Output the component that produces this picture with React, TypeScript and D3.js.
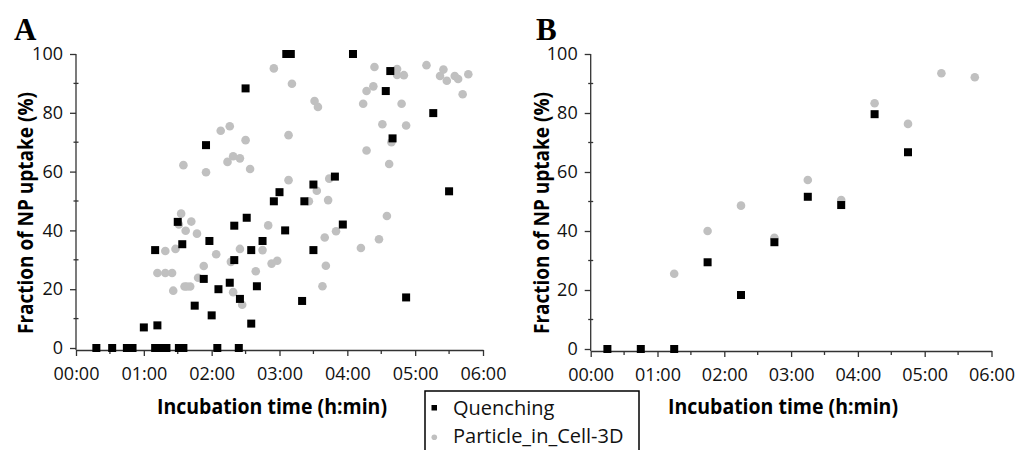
import * as d3 from "d3";
import React, { useRef, useEffect } from "react";

const W = 1019;
const H = 450;

// panel A, quenching (time in minutes, uptake in %)
const quenchA_min = [18, 32, 45, 50, 60, 70, 72, 70, 75, 80, 90, 94, 91, 95, 115, 118, 113, 105, 120, 150, 186, 190, 245, 229, 210, 180, 175, 202, 151, 140, 236, 185, 165, 155, 210, 140, 136, 126, 160, 145, 200, 155, 125, 144, 278, 274, 316, 280, 330, 292];
const quenchA_pct = [0, 0, 0, 0, 7, 33.3, 7.7, 0, 0, 0, 42.9, 35.3, 0, 0, 69, 36.4, 23.5, 14.4, 11.1, 88.3, 100, 100, 100, 58.3, 55.6, 53, 49.9, 49.9, 44.3, 41.6, 42, 40, 36.4, 33.3, 33.3, 29.9, 22.2, 20, 21, 16.7, 16, 8.3, 0, 0, 94.2, 87.4, 79.9, 71.3, 53.3, 17.2];

// panel A, particle_in_cell-3D
const cellA_min = [95, 115, 93, 91, 102, 97, 107, 88, 79, 72, 79, 85, 86, 96, 98, 101, 113, 108, 175, 191, 211, 214, 128, 136, 150, 188, 134, 139, 145, 154, 188, 224, 213, 223, 206, 170, 220, 230, 124, 145, 165, 137, 173, 178, 159, 221, 218, 139, 147, 252, 264, 284, 284, 290, 310, 325, 322, 328, 335, 338, 347, 342, 257, 263, 254, 288, 271, 292, 279, 257, 277, 275, 268];
const cellA_pct = [62.2, 59.8, 45.7, 42, 43, 39.9, 38.9, 33.7, 33, 25.5, 25.5, 25.5, 19.5, 20.9, 20.9, 20.9, 27.9, 23.9, 95.1, 89.9, 84, 82, 73.9, 75.4, 70.7, 72.4, 63.3, 65.2, 64.5, 60.9, 57.1, 57.6, 53.5, 50.3, 49.9, 41.7, 37.6, 39.7, 31.9, 33.7, 33.3, 29.3, 28.7, 29.7, 26.1, 28, 21, 19, 14.7, 34, 95.6, 94.9, 92.9, 92.8, 96.2, 94.7, 92.5, 90.9, 92.5, 91.5, 93.1, 86.3, 87.4, 89, 83.1, 83.1, 76.1, 75.7, 70, 67.2, 62.6, 44.9, 37];

// panel B
const quenchB_min = [15, 45, 75, 105, 135, 165, 195, 225, 255, 285];
const quenchB_pct = [0, 0, 0, 29.4, 18.3, 36.2, 51.6, 48.8, 79.6, 66.7];
const cellB_min = [75, 105, 135, 165, 195, 225, 255, 285, 315, 345];
const cellB_pct = [25.5, 40, 48.6, 37.7, 57.3, 50.5, 83.3, 76.3, 93.5, 92.1];

const yTicks = [0, 20, 40, 60, 80, 100];
const yMinor = [10, 30, 50, 70, 90];
const xTicks = [0, 60, 120, 180, 240, 300, 360];
const xMinor = [30, 90, 150, 210, 270, 330];

const seriesNames = ["Quenching", "Particle_in_Cell-3D"];
const xTitle = "Incubation time (h:min)";
const yTitle = "Fraction of NP uptake (%)";

const pad2 = (n) => String(n).padStart(2, "0");
const fmtTime = (m) => `${pad2(Math.floor(m / 60))}:${pad2(m % 60)}`;
const zip = (a, b) => a.map((v, i) => [v, b[i]]);

const FONT = "'Open Sans', 'Noto Sans', sans-serif";
const AXIS = "#333";
const GREY = "#c0c0c0";

const panels = [
  {
    label: "A", left: 76, right: 483, top: 54, bottom: 348,
    letterX: 14, yTitleX: 25, xTitleX: 272,
    quench: zip(quenchA_min, quenchA_pct), cell: zip(cellA_min, cellA_pct),
  },
  {
    label: "B", left: 590.7, right: 991.5, top: 54, bottom: 349,
    letterX: 536, yTitleX: 541, xTitleX: 783,
    quench: zip(quenchB_min, quenchB_pct), cell: zip(cellB_min, cellB_pct),
  },
];

function App() {
  const ref = useRef(null);

  useEffect(() => {
    const svg = d3.select(ref.current);
    svg.selectAll("*").remove();
    svg.append("rect").attr("width", W).attr("height", H).attr("fill", "#fff");

    panels.forEach((p) => {
      const x = d3.scaleLinear().domain([0, 360]).range([p.left, p.right]);
      const y = d3.scaleLinear().domain([0, 100]).range([p.bottom, p.top]);
      const axisY = p.bottom + 2;
      const g = svg.append("g");

      // minor ticks
      g.selectAll(".ymin")
        .data(yMinor)
        .join("line")
        .attr("x1", p.left - 2.5)
        .attr("x2", p.left + 2.5)
        .attr("y1", (d) => y(d))
        .attr("y2", (d) => y(d))
        .attr("stroke", AXIS)
        .attr("stroke-width", 1.3);
      g.selectAll(".xmin")
        .data(xMinor)
        .join("line")
        .attr("x1", (d) => x(d))
        .attr("x2", (d) => x(d))
        .attr("y1", axisY)
        .attr("y2", axisY + 4)
        .attr("stroke", AXIS)
        .attr("stroke-width", 1.3);

      // y axis
      const ya = g
        .append("g")
        .attr("transform", `translate(${p.left},0)`)
        .call(d3.axisLeft(y).tickValues(yTicks).tickSize(6).tickSizeOuter(0).tickPadding(7));
      ya.select(".domain").attr("d", `M0,${y(100)}V${axisY}`);

      // x axis
      const xa = g
        .append("g")
        .attr("transform", `translate(0,${axisY})`)
        .call(d3.axisBottom(x).tickValues(xTicks).tickFormat(fmtTime).tickSize(6).tickSizeOuter(0).tickPadding(11));

      [ya, xa].forEach((a) => {
        a.attr("font-family", FONT).attr("font-size", 18);
        a.selectAll("path,line").attr("stroke", AXIS).attr("stroke-width", 1.3);
        a.selectAll("text").attr("fill", "#111");
      });

      // points: grey first, squares on top
      g.selectAll(".cell")
        .data(p.cell)
        .join("circle")
        .attr("cx", (d) => x(d[0]))
        .attr("cy", (d) => y(d[1]))
        .attr("r", 4.3)
        .attr("fill", GREY);
      g.selectAll(".q")
        .data(p.quench)
        .join("rect")
        .attr("x", (d) => x(d[0]) - 4)
        .attr("y", (d) => y(d[1]) - 4)
        .attr("width", 8)
        .attr("height", 8)
        .attr("fill", "#000");

      // titles
      g.append("text")
        .attr("x", p.xTitleX)
        .attr("y", 414)
        .attr("text-anchor", "middle")
        .attr("font-family", FONT)
        .attr("font-weight", 700)
        .attr("font-size", 20.5)
        .attr("textLength", 230)
        .attr("lengthAdjust", "spacingAndGlyphs")
        .attr("fill", "#000")
        .text(xTitle);
      g.append("text")
        .attr("transform", `translate(${p.yTitleX},213) rotate(-90)`)
        .attr("text-anchor", "middle")
        .attr("dominant-baseline", "central")
        .attr("font-family", FONT)
        .attr("font-weight", 700)
        .attr("font-size", 20.5)
        .attr("textLength", 242)
        .attr("lengthAdjust", "spacingAndGlyphs")
        .attr("fill", "#000")
        .text(yTitle);
      g.append("text")
        .attr("x", p.letterX)
        .attr("y", 40)
        .attr("font-family", "'Liberation Serif', 'DejaVu Serif', serif")
        .attr("font-weight", 700)
        .attr("font-size", 31)
        .attr("fill", "#000")
        .text(p.label);
    });

    // legend
    const lg = svg.append("g");
    lg.append("rect")
      .attr("x", 425)
      .attr("y", 391)
      .attr("width", 214)
      .attr("height", 80)
      .attr("fill", "#fff")
      .attr("stroke", "#000")
      .attr("stroke-width", 1.5);
    lg.append("rect").attr("x", 431.5).attr("y", 405).attr("width", 5.5).attr("height", 5.5).attr("fill", "#000");
    lg.append("circle").attr("cx", 434.3).attr("cy", 437.3).attr("r", 2.8).attr("fill", GREY);
    lg.selectAll(".lt")
      .data(seriesNames)
      .join("text")
      .attr("x", 453)
      .attr("y", (d, i) => 415 + i * 28)
      .attr("font-family", FONT)
      .attr("font-size", 20)
      .attr("fill", "#111")
      .text((d) => d);
  }, []);

  return (
    <svg
      ref={ref}
      width={W}
      height={H}
      style={{ position: "absolute", left: 0, top: 0, display: "block" }}
    ></svg>
  );
}

export default App;
